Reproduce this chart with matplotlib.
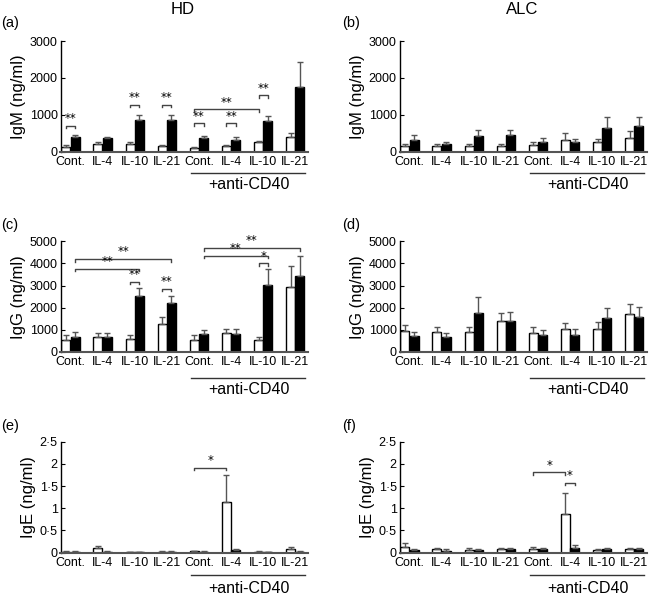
import numpy as np
import matplotlib
matplotlib.use('Agg')
import matplotlib.pyplot as plt
import matplotlib.transforms as mtransforms

plt.rcParams['font.family'] = ['Liberation Sans', 'DejaVu Sans']

groups = ['Cont.', 'IL-4', 'IL-10', 'IL-21', 'Cont.', 'IL-4', 'IL-10', 'IL-21']

# IgM, HD (a)
igm_hd_w = [130, 220, 220, 150, 100, 150, 250, 400]
igm_hd_w_err = [50, 40, 45, 30, 20, 30, 50, 110]
igm_hd_b = [400, 360, 860, 860, 360, 320, 820, 1750]
igm_hd_b_err = [65, 50, 140, 140, 60, 70, 145, 680]

# IgM, ALC (b)
igm_alc_w = [160, 155, 155, 160, 175, 330, 270, 370]
igm_alc_w_err = [50, 45, 45, 45, 90, 165, 80, 200]
igm_alc_b = [320, 220, 425, 445, 270, 270, 650, 700]
igm_alc_b_err = [120, 55, 150, 145, 110, 85, 300, 250]

# IgG, HD (c)
igg_hd_w = [560, 690, 580, 1260, 560, 880, 550, 2920]
igg_hd_w_err = [200, 170, 210, 330, 190, 180, 150, 960]
igg_hd_b = [700, 680, 2550, 2230, 830, 830, 3030, 3430]
igg_hd_b_err = [210, 200, 350, 310, 180, 190, 730, 890]

# IgG, ALC (d)
igg_alc_w = [970, 890, 910, 1390, 880, 1060, 1060, 1720]
igg_alc_w_err = [250, 250, 240, 350, 250, 250, 290, 470]
igg_alc_b = [720, 670, 1760, 1390, 770, 780, 1540, 1580]
igg_alc_b_err = [190, 200, 710, 420, 240, 240, 450, 460]

# IgE, HD (e)
ige_hd_w = [0.02, 0.10, 0.01, 0.02, 0.03, 1.15, 0.02, 0.07]
ige_hd_w_err = [0.01, 0.05, 0.01, 0.01, 0.01, 0.60, 0.01, 0.045]
ige_hd_b = [0.02, 0.02, 0.01, 0.02, 0.02, 0.06, 0.01, 0.02]
ige_hd_b_err = [0.01, 0.01, 0.01, 0.01, 0.01, 0.03, 0.01, 0.01]

# IgE, ALC (f)
ige_alc_w = [0.12, 0.08, 0.06, 0.07, 0.08, 0.87, 0.05, 0.07]
ige_alc_w_err = [0.10, 0.03, 0.04, 0.03, 0.04, 0.48, 0.02, 0.03]
ige_alc_b = [0.05, 0.04, 0.05, 0.07, 0.07, 0.10, 0.07, 0.07]
ige_alc_b_err = [0.03, 0.03, 0.04, 0.03, 0.04, 0.07, 0.03, 0.03]

off = 0.145
W, B = -off, off
# significance brackets: (x1, x2, height, label)
sig_a = [(W, B, 700, '**'), (2 + W, 2 + B, 1270, '**'), (3 + W, 3 + B, 1270, '**'),
         (4 + W, 4 + B, 765, '**'), (5 + W, 5 + B, 765, '**'),
         (4 + W, 6 + W, 1145, '**'), (6 + W, 6 + B, 1530, '**')]
sig_c = [(B, 2 + B, 3770, '**'), (B, 3 + B, 4200, '**'), (2 + W, 2 + B, 3170, '**'),
         (3 + W, 3 + B, 2850, '**'), (4 + B, 6 + B, 4345, '**'), (4 + B, 7 + B, 4695, '**'),
         (6 + W, 6 + B, 4010, '*')]
sig_e = [(4 + W, 5 + W, 1.91, '*')]
sig_f = [(4 + W, 5 + W, 1.81, '*'), (5 + W, 5 + B, 1.57, '*')]

fig = plt.figure(figsize=(6.51, 5.97), dpi=100)

lefts = [60.5 / 651, 399.5 / 651]
width = 247 / 651
bottoms = [1 - 151.7 / 597, 1 - 352 / 597, 1 - 552.5 / 597]
height = 110.7 / 597

panels = [
    ('(a)', 'IgM (ng/ml)', igm_hd_w, igm_hd_w_err, igm_hd_b, igm_hd_b_err, 3000, sig_a, 0, 0),
    ('(b)', 'IgM (ng/ml)', igm_alc_w, igm_alc_w_err, igm_alc_b, igm_alc_b_err, 3000, [], 0, 1),
    ('(c)', 'IgG (ng/ml)', igg_hd_w, igg_hd_w_err, igg_hd_b, igg_hd_b_err, 5000, sig_c, 1, 0),
    ('(d)', 'IgG (ng/ml)', igg_alc_w, igg_alc_w_err, igg_alc_b, igg_alc_b_err, 5000, [], 1, 1),
    ('(e)', 'IgE (ng/ml)', ige_hd_w, ige_hd_w_err, ige_hd_b, ige_hd_b_err, 2.5, sig_e, 2, 0),
    ('(f)', 'IgE (ng/ml)', ige_alc_w, ige_alc_w_err, ige_alc_b, ige_alc_b_err, 2.5, sig_f, 2, 1),
]
line_px = [21, 26, 22]
text_px = [33, 37, 36]

x = np.arange(len(groups))
for tag, ylab, w, we, b, be, ymax, sigs, row, col in panels:
    ax = fig.add_axes([lefts[col], bottoms[row], width, height])
    ax.bar(x + W, w, width=0.28, color='white', edgecolor='black', linewidth=1)
    ax.bar(x + B, b, width=0.28, color='black', edgecolor='black', linewidth=1)
    ax.errorbar(x + W, w, yerr=[np.zeros(len(w)), we], fmt='none', ecolor='#555555',
                elinewidth=1, capsize=2.2)
    ax.errorbar(x + B, b, yerr=[np.zeros(len(b)), be], fmt='none', ecolor='#555555',
                elinewidth=1, capsize=2.2)
    ax.set_xlim(-0.31, 7.38)
    ax.set_ylim(0, ymax)
    if ymax == 2.5:
        ticks = [0, 0.5, 1, 1.5, 2, 2.5]
        ax.set_yticks(ticks)
        ax.set_yticklabels(['0', '0·5', '1', '1·5', '2', '2·5'])
    else:
        ax.set_yticks(np.arange(0, ymax + 1, 1000))
    ax.tick_params(axis='y', direction='in', length=3, labelsize=9, pad=2)
    ax.set_xticks(x)
    ax.set_xticklabels(groups, fontsize=9)
    ax.tick_params(axis='x', length=0, pad=3)
    for s in ['top', 'right']:
        ax.spines[s].set_visible(False)
    ax.spines['bottom'].set_color('#555555')
    ax.spines['bottom'].set_linewidth(1.5)
    ax.spines['left'].set_linewidth(1)
    ax.set_ylabel(ylab, fontsize=12, labelpad=3)

    drop = ymax / 110.7 * 2.5
    for x1, x2, h, lab in sigs:
        ax.plot([x1, x1, x2, x2], [h - drop, h, h, h - drop], color='#444444', lw=1)
        ax.annotate(lab, xy=((x1 + x2) / 2, h), xytext=(0, 0.5), textcoords='offset points',
                    ha='center', va='bottom', fontsize=8.5, family='DejaVu Sans')

    trans = mtransforms.blended_transform_factory(ax.transData, ax.transAxes)
    ly = -line_px[row] / 110.7
    ax.plot([3.75, 7.3], [ly, ly], color='#333333', lw=1, transform=trans, clip_on=False)
    ax.text(5.55, -text_px[row] / 110.7, '+anti-CD40', transform=trans, ha='center',
            va='center', fontsize=11.5)

    tag_x = [1 / 651, 342 / 651][col]
    tag_y = 1 - [23, 225, 426][row] / 597
    fig.text(tag_x, tag_y, tag, ha='left', va='center', fontsize=10.5)

fig.text(183 / 651, 1 - 10 / 597, 'HD', ha='center', va='center', fontsize=12)
fig.text(522 / 651, 1 - 10 / 597, 'ALC', ha='center', va='center', fontsize=12)

fig.savefig('out.png', dpi=100)
